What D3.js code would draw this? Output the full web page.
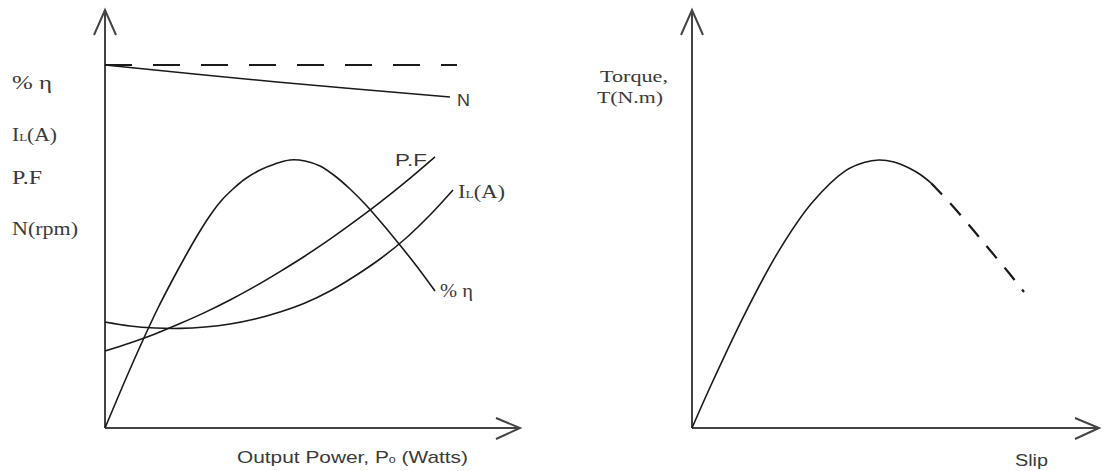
<!DOCTYPE html>
<html>
<head>
<meta charset="utf-8">
<script src="https://cdn.jsdelivr.net/npm/d3@7"></script>
<style>
  body { margin: 0; background: #fff; }
  svg { display: block; }
  .serif { font-family: "Liberation Serif", "Times New Roman", serif; fill: #3a3a3a; }
  .sans { font-family: "Liberation Sans", Arial, sans-serif; fill: #3a3a3a; }
</style>
</head>
<body>
<svg id="chart"></svg>
<script>
// left panel: performance vs output power (0..100 units both ways)
const etaPower = [0, 4.75, 9.5, 13.25, 17, 20, 23, 26, 29, 32, 35, 38.75, 42.5, 46.25, 50, 53.75, 57.5, 61.25, 65, 68.75, 72.5, 77.5, 82.5];
const eta      = [0, 11.25, 22, 30, 37.25, 42.75, 48, 52.75, 56.75, 59.75, 62.25, 64.5, 66, 67, 66.75, 65.5, 63, 59.75, 56, 51.75, 47.25, 41, 34.25];

const pfPower  = [0, 6.25, 12.5, 18.75, 25, 31.25, 37.5, 43.75, 50, 56.25, 62.5, 68.75, 75, 82.5];
const pf       = [19.25, 21.25, 23.5, 26.1, 28.9, 32, 35.4, 39.1, 43, 47.2, 51.7, 56.4, 61.4, 67.8];

const ilPower  = [0, 6.25, 12.5, 18.75, 25, 31.25, 37.5, 43.75, 50, 56.25, 62.5, 68.75, 75, 81.25, 87];
const il       = [26.5, 25.5, 25, 24.9, 25.25, 26, 27.25, 29, 31.25, 34.25, 38, 42.25, 47.25, 53.25, 59.5];

const speedPower = [0, 43, 86.25];
const speed      = [90.75, 86.5, 82.75];

const syncPower = [0, 88];
const syncSpeed = [90.75, 90.75];

const leftLabels = ['% η', 'IL(A)', 'P.F', 'N(rpm)'];

// right panel: torque vs slip
const slipSolid   = [0, 5, 13.5, 21.75, 30, 38.5, 43, 46.75, 50.5, 54.25, 57.25, 59.75];
const torqueSolid = [0, 11.25, 29.1, 44.35, 56.3, 64.4, 66.4, 67, 66.5, 65, 63.25, 61.25];
const slipDash    = [59.75, 64.25, 69.25, 74.25, 79.25, 83];
const torqueDash  = [61.25, 56.5, 50.75, 44.75, 38.75, 34];

const w = 1101, h = 471;
const svg = d3.select('#chart').attr('width', w).attr('height', h);

const y = d3.scaleLinear().domain([0, 100]).range([428, 28]);
const xL = d3.scaleLinear().domain([0, 100]).range([105, 505]);
const xR = d3.scaleLinear().domain([0, 100]).range([692, 1092]);

const zip = (a, b) => a.map((v, i) => [v, b[i]]);

function drawAxes(x, tipX) {
	let x0 = x(0), y0 = y(0);
	svg.append('path')
		.attr('d', `M${x0},${y0}L${x0},10M${x0 - 11},35L${x0},10L${x0 + 11},35`)
		.attr('fill', 'none').attr('stroke', '#444').attr('stroke-width', 2);
	svg.append('path')
		.attr('d', `M${x0},${y0}L${tipX},${y0}M${tipX - 24},${y0 - 10}L${tipX},${y0}L${tipX - 24},${y0 + 11}`)
		.attr('fill', 'none').attr('stroke', '#444').attr('stroke-width', 2);
}

function drawCurve(x, xs, ys, dash) {
	let line = d3.line()
		.x(d => x(d[0]))
		.y(d => y(d[1]))
		.curve(d3.curveCatmullRom.alpha(0.5));
	svg.append('path')
		.datum(zip(xs, ys))
		.attr('d', line)
		.attr('fill', 'none')
		.attr('stroke', '#1a1a1a')
		.attr('stroke-width', dash ? 2.2 : 1.6)
		.attr('stroke-dasharray', dash || null);
}

drawAxes(xL, 520);
drawAxes(xR, 1099);

drawCurve(xL, syncPower, syncSpeed, '27,21');
drawCurve(xL, speedPower, speed);
drawCurve(xL, etaPower, eta);
drawCurve(xL, pfPower, pf);
drawCurve(xL, ilPower, il);
drawCurve(xR, slipSolid, torqueSolid);
drawCurve(xR, slipDash, torqueDash, '16,12');

// text labels; width forced to match the stretched look of the original
function label(txt, px, py, cls, size, len) {
	let t = svg.append('text').attr('x', px).attr('y', py)
		.attr('class', cls).style('font-size', size + 'px');
	if (len) t.attr('textLength', len).attr('lengthAdjust', 'spacingAndGlyphs');
	if (txt.startsWith('IL')) {
		t.append('tspan').text('I');
		t.append('tspan').text('L').style('font-size', (size * 0.6) + 'px');
		t.append('tspan').text(txt.slice(2));
	} else if (txt.includes('P0')) {
		let [a, b] = txt.split('P0');
		t.append('tspan').text(a + 'P');
		t.append('tspan').text('o').style('font-size', (size * 0.6) + 'px');
		t.append('tspan').text(b);
	} else {
		t.text(txt);
	}
	return t;
}

let leftY = [89, 141, 184, 235];
let leftLen = [40, 45, 30, 66];
leftLabels.forEach((s, i) => label(s, 12, leftY[i], 'serif', 18, leftLen[i]));

label('N', 457, 106, 'sans', 17, 13);
label('P.F', 395, 166, 'sans', 17, 32);
label('IL(A)', 458, 198, 'serif', 18, 47);
label('% η', 440, 297, 'serif', 18, 33);

label('Output Power, P0 (Watts)', 237, 463, 'sans', 17, 231);

label('Torque,', 600, 82, 'serif', 16, 68);
label('T(N.m)', 597, 103, 'serif', 16, 66);
label('Slip', 1015, 466, 'sans', 16, 33);
</script>
</body>
</html>
